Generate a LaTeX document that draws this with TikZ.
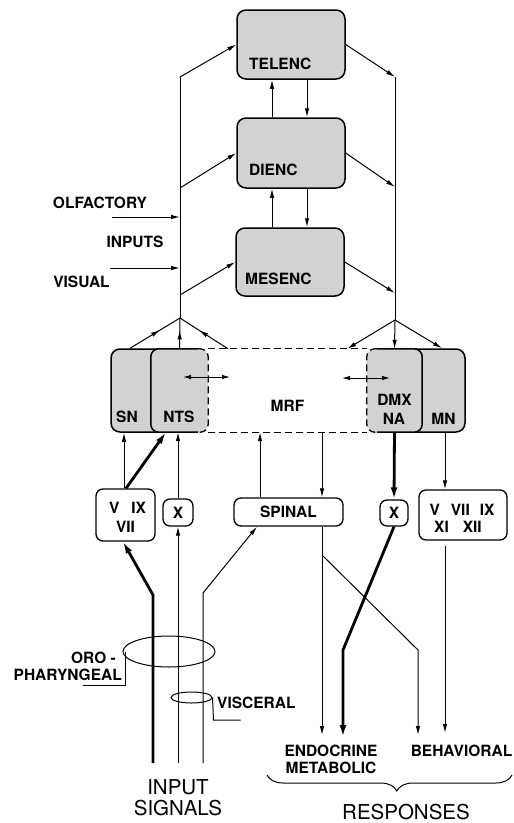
\documentclass[tikz,border=0pt]{standalone}
\usepackage{fontspec}
\setmainfont{TeX Gyre Heros}
\usetikzlibrary{arrows.meta,decorations.pathreplacing,decorations.markings,shapes.geometric}
\begin{document}
\begin{tikzpicture}[x=1pt,y=-1pt,
  lab/.style={font=\fontsize{15.5}{17}\selectfont\bfseries, inner sep=0pt},
  big/.style={font=\fontsize{20.5}{21}\selectfont, inner sep=0pt, align=center},
  shbox/.style={rectangle, rounded corners=9pt, draw, line width=1.5pt, fill=gray!35, inner sep=0pt},
  shfill/.style={rectangle, rounded corners=8pt, fill=gray!35, inner sep=0pt},
  nbox/.style={rectangle, rounded corners=7pt, draw, line width=1.3pt, fill=white, inner sep=0pt},
  lw1/.style={line width=1pt},
  arr/.style={lw1, -{Latex[length=9pt,width=4.5pt]}},
  tarr/.style={line width=2.8pt, -{Latex[length=12pt,width=7pt]}},
  dbl/.style={lw1, {Latex[length=8pt,width=4.5pt]}-{Latex[length=8pt,width=4.5pt]}},
  midarr/.style={lw1, postaction={decorate}, decoration={markings, mark=at position 0.6 with {\arrow{Latex[length=9pt,width=4.5pt]}}}},
  bline/.style={line width=1.5pt},
  mrfdash/.style={line width=1.3pt, dash pattern=on 7pt off 4pt},
  ell/.style={ellipse, draw, line width=1pt, inner sep=0pt},
]
\useasboundingbox (0,0) rectangle (514,823);

% forebrain boxes
\node[shbox, minimum width=108pt, minimum height=69pt] (tel) at (291,44.5) {};
\node[lab, anchor=west] (telt) at (249,64) {TELENC};
\node[shbox, minimum width=108pt, minimum height=70pt] (die) at (291,153) {};
\node[lab, anchor=west] (diet) at (249,170) {DIENC};
\node[shbox, minimum width=108pt, minimum height=68pt] (mes) at (290,262) {};
\node[lab, anchor=west] (mest) at (245,279) {MESENC};

\draw[arr] ([xshift=-19pt]die.north) -- ([xshift=-19pt]tel.south);
\draw[arr] ([xshift=16pt]tel.south) -- ([xshift=16pt]die.north);
\draw[arr] ([xshift=-19pt]die.south |- mes.north) -- ([xshift=-19pt]die.south);
\draw[arr] ([xshift=16pt]die.south) -- ([xshift=16pt]die.south |- mes.north);

% left ascending column
\coordinate (lt) at (180,77);
\coordinate (l2) at (180,188);
\coordinate (l3) at (180,295);
\coordinate (jl) at (180,318);
\draw[lw1] (lt) -- (jl);
\draw[arr] (lt) -- (tel.west);
\draw[arr] (l2) -- (die.west);
\draw[arr] (l3) -- (mes.west);

\node[lab] (olf) at (100,203) {OLFACTORY};
\node[lab] (inp) at (135,242) {INPUTS};
\node[lab] (vis) at (81.5,282) {VISUAL};
\coordinate (o1) at (112,217);
\coordinate (v1) at (110,268);
\draw[arr] (o1) -- (o1 -| lt);
\draw[arr] (v1) -- (v1 -| lt);

% right descending column
\coordinate (rt) at (395,77);
\coordinate (r2) at (395,187);
\coordinate (r3) at (395,293);
\coordinate (jr) at (395,320);
\draw[lw1] (rt) -- (jr);
\draw[arr] (tel.east) -- (rt);
\draw[arr] (die.east) -- (r2);
\draw[arr] (mes.east) -- (r3);

% brainstem
\node[shbox, minimum width=58pt, minimum height=83pt] (sn) at (140,390.5) {};
\node[shfill, minimum width=57pt, minimum height=83pt] (nts) at (179.5,390.5) {};
\draw[bline, rounded corners=8pt] ([xshift=-10pt]nts.north east) -- (nts.north west) -- (nts.south west) -- ([xshift=-10pt]nts.south east);
\draw[mrfdash, rounded corners=8pt] ([xshift=-10pt]nts.north east) -- (nts.north east) -- (nts.south east) -- ([xshift=-10pt]nts.south east);

\node[shbox, minimum width=57pt, minimum height=83pt] (mn) at (436.5,390.5) {};
\node[shfill, minimum width=55pt, minimum height=83pt] (dmx) at (394.5,390.5) {};
\draw[bline, rounded corners=8pt] ([xshift=10pt]dmx.north west) -- (dmx.north east) -- (dmx.south east) -- ([xshift=10pt]dmx.south west);
\draw[mrfdash, rounded corners=8pt] ([xshift=10pt]dmx.north west) -- (dmx.north west) -- (dmx.south west) -- ([xshift=10pt]dmx.south west);

\node[minimum width=159pt, minimum height=83pt, inner sep=0pt] (mrf) at (287.5,390.5) {};
\draw[mrfdash] (mrf.north west) -- (mrf.north east);
\draw[mrfdash] (mrf.south west) -- (mrf.south east);

\node[lab] (snt) at (127,417) {SN};
\node[lab] (ntst) at (179,417) {NTS};
\node[lab] (mrft) at (287.5,406) {MRF};
\node[lab] (dmxt) at (394.5,400) {DMX};
\node[lab] (nat) at (394,419) {NA};
\node[lab] (mnt) at (443.5,419) {MN};

\coordinate (d1) at (183,377);
\coordinate (d2) at (230,377);
\coordinate (d3) at (342,378);
\coordinate (d4) at (390,378);
\draw[dbl] (d1) -- (d2);
\draw[dbl] (d3) -- (d4);

\draw[midarr] ([xshift=-10pt]sn.north) -- (jl);
\draw[midarr] (nts.north) -- (jl);
\draw[midarr] ([xshift=-59.5pt]mrf.north) -- (jl);
\draw[arr] (jr) -- ([xshift=-20pt]mrf.north east);
\draw[arr] (jr) -- (dmx.north);
\draw[arr] (jr) -- ([xshift=5.5pt]mn.north);

% cranial nerve / spinal boxes
\node[nbox, minimum width=59pt, minimum height=52pt] (vb) at (125.5,515) {};
\node[lab] (vb1) at (127.5,508) {V\hspace{12pt}IX};
\node[lab] (vb2) at (125.5,527) {VII};
\node[nbox, lab, minimum width=30pt, minimum height=27pt] (x1) at (178,512.5) {X};
\node[nbox, lab, minimum width=109pt, minimum height=28pt] (sp) at (288.5,512) {SPINAL};
\node[nbox, lab, minimum width=28pt, minimum height=26pt] (x2) at (394,513) {X};
\node[nbox, minimum width=88pt, minimum height=50pt] (vr) at (463,515) {};
\node[lab] (vr1) at (462,510) {V\hspace{11pt}VII\hspace{10pt}IX};
\node[lab] (vr2) at (458,527) {XI\hspace{14pt}XII};

\draw[arr] ([xshift=-1.5pt]vb.north) -- ([xshift=-1.5pt]vb.north |- sn.south);
\draw[tarr] ([xshift=0.5pt]vb.north) -- ([xshift=-13.5pt]nts.south);
\draw[arr] (x1.north) -- (x1.north |- nts.south);
\coordinate (s1) at ([xshift=-28.5pt]sp.north);
\coordinate (s2) at ([xshift=33.5pt]sp.north);
\draw[arr] (s1) -- (s1 |- mrf.south);
\draw[arr] (s2 |- mrf.south) -- (s2);
\draw[tarr] (dmx.south) -- (x2.north);
\coordinate (m1) at ([xshift=8.5pt]mn.south);
\draw[arr] (m1) -- (m1 |- vr.north);

% input signals
\coordinate (in1) at (153,763);
\coordinate (k1) at (153,595);
\draw[tarr] (in1) -- (k1) -- ([xshift=-2.5pt]vb.south);
\coordinate (in2) at (178,763);
\draw[arr] (in2) -- (x1.south);
\coordinate (in3) at (203,763);
\coordinate (k3) at (203,593);
\draw[arr] (in3) -- (k3) -- ([xshift=-31.5pt]sp.south);

\node[ell, minimum width=92pt, minimum height=31pt] (oroell) at (169,651.5) {};
\draw[lw1] ([xshift=3pt]oroell.west) -- ++(0,34) -- ++(-43,0);
\node[ell, minimum width=41pt, minimum height=11pt] (visell) at (191.5,697.5) {};
\draw[lw1] (visell.east) -- ++(1,22.5) -- ++(27,0);
\node[lab, anchor=east] (oro) at (116,658) {ORO -};
\node[lab, anchor=east] (phar) at (122,675) {PHARYNGEAL};
\node[lab, anchor=west] (visc) at (217,703) {VISCERAL};
\node[big] (insig) at (178,797.5) {INPUT\\SIGNALS};

% responses
\coordinate (e1) at (322,735);
\coordinate (b1) at (322,555);
\coordinate (b2) at (418,650);
\coordinate (e3) at (418,735);
\draw[arr] (s2 |- sp.south) -- (e1);
\draw[arr] (b1) -- (b2) -- (e3);
\coordinate (t1) at (343,650);
\coordinate (e2) at (343,737);
\draw[tarr] (x2.south) -- (t1) -- (e2);
\coordinate (e4) at (445,733);
\draw[arr] ([yshift=-5pt]m1 |- vr.south) -- (e4);

\node[lab, align=center] (endo) at (331,759.5) {ENDOCRINE\\METABOLIC};
\node[lab] (beh) at (461.5,751) {BEHAVIORAL};
\coordinate (br1) at (267,775);
\coordinate (br2) at (512,775);
\draw[lw1, decorate, decoration={brace, mirror, amplitude=16pt, aspect=0.53}] (br1) -- (br2);
\node[big] (resp) at (406,812) {RESPONSES};
\end{tikzpicture}
\end{document}
